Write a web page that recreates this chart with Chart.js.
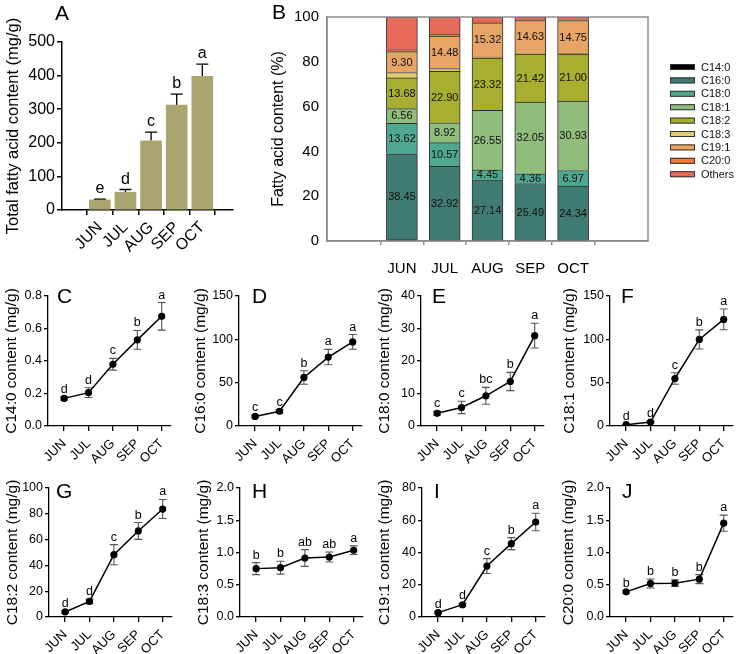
<!DOCTYPE html>
<html><head><meta charset="utf-8">
<script src="https://cdn.jsdelivr.net/npm/chart.js@4.4.1/dist/chart.umd.min.js"></script>
<style>
 html,body{margin:0;padding:0;background:#fff;}
 #wrap{position:relative;width:741px;height:654px;overflow:hidden;background:#fff;font-family:"Liberation Sans",Arial,sans-serif;}
 #wrap canvas{position:absolute;}
 .plab{position:absolute;font-size:21px;line-height:1;color:#000;font-family:"Liberation Sans",Arial,sans-serif;}
</style></head>
<body><div id="wrap"></div>
<script>
// ---------------- data ----------------
const months = ['JUN', 'JUL', 'AUG', 'SEP', 'OCT'];

// A: total fatty acid content (mg/g)
const totalMean = [30, 53, 206, 312, 398];
const totalSd = [2, 8, 26, 33, 36];
const totalLetters = ['e', 'd', 'c', 'b', 'a'];

// B: composition (%)
const compNames = ['C14:0', 'C16:0', 'C18:0', 'C18:1', 'C18:2', 'C18:3', 'C19:1', 'C20:0', 'Others'];
const pctC14_0 = [0.5, 0.4, 0.2, 0.17, 0.17];
const pctC16_0 = [38.45, 32.92, 27.14, 25.49, 24.34];
const pctC18_0 = [13.62, 10.57, 4.45, 4.36, 6.97];
const pctC18_1 = [6.56, 8.92, 26.55, 32.05, 30.93];
const pctC18_2 = [13.68, 22.90, 23.32, 21.42, 21.00];
const pctC18_3 = [2.4, 1.3, 0.45, 0.3, 0.26];
const pctC19_1 = [9.30, 14.48, 15.32, 14.63, 14.75];
const pctC20_0 = [1.0, 1.0, 0.3, 0.2, 0.36];
const pctOthers = [14.49, 7.51, 2.27, 1.38, 1.22];
const pctLabelled = [false, true, true, true, true, false, true, false, false];

// C-J: individual fatty acids (mg/g)
const c14Mean = [0.17, 0.205, 0.38, 0.53, 0.675];
const c14Sd = [0.01, 0.03, 0.036, 0.058, 0.085];
const c14Letters = ['d', 'd', 'c', 'b', 'a'];

const c16Mean = [11, 17, 56, 79.5, 97];
const c16Sd = [1.5, 2, 7.8, 8.9, 8.5];
const c16Letters = ['c', 'c', 'b', 'a', 'a'];

const c180Mean = [3.9, 5.7, 9.3, 13.7, 27.8];
const c180Sd = [0.6, 1.9, 2.6, 2.8, 3.8];
const c180Letters = ['c', 'c', 'bc', 'b', 'a'];

const c181Mean = [1.5, 4.6, 54.8, 99.9, 123];
const c181Sd = [0.5, 1, 6.7, 11, 12];
const c181Letters = ['d', 'd', 'c', 'b', 'a'];

const c182Mean = [3.9, 12.1, 48.3, 66.7, 83.7];
const c182Sd = [0.8, 1.8, 7.8, 6.5, 7.4];
const c182Letters = ['d', 'd', 'c', 'b', 'a'];

const c183Mean = [0.75, 0.765, 0.915, 0.93, 1.035];
const c183Sd = [0.093, 0.1, 0.13, 0.078, 0.067];
const c183Letters = ['b', 'b', 'ab', 'ab', 'a'];

const c191Mean = [2.7, 7.6, 31.6, 45.5, 58.9];
const c191Sd = [0.5, 0.8, 4.6, 3.7, 5.4];
const c191Letters = ['d', 'd', 'c', 'b', 'a'];

const c200Mean = [0.39, 0.52, 0.525, 0.587, 1.455];
const c200Sd = [0.02, 0.07, 0.05, 0.07, 0.125];
const c200Letters = ['b', 'b', 'b', 'b', 'a'];

// ---------------- setup ----------------
const FONT = '"Liberation Sans", Arial, sans-serif';
Chart.defaults.font.family = FONT;
Chart.defaults.color = '#000';
Chart.defaults.animation = false;
Chart.defaults.plugins.legend.display = false;
Chart.defaults.plugins.tooltip.enabled = false;

const wrap = document.getElementById('wrap');
function makeCanvas(x, y, w, h) {
  const c = document.createElement('canvas');
  c.width = w; c.height = h;
  c.style.left = x + 'px'; c.style.top = y + 'px';
  c.style.width = w + 'px'; c.style.height = h + 'px';
  wrap.appendChild(c);
  return c;
}
function panelLetter(t, x, y) {
  const d = document.createElement('div');
  d.className = 'plab'; d.textContent = t;
  d.style.left = x + 'px'; d.style.top = y + 'px';
  wrap.appendChild(d);
}

function errPlugin(sd, letters, o) {
  return {
    id: 'errbars',
    beforeDatasetsDraw(chart) {
      const ctx = chart.ctx, xs = chart.scales.x, ys = chart.scales.y;
      const pts = chart.data.datasets[0].data;
      ctx.save();
      ctx.strokeStyle = o.color; ctx.lineWidth = o.width;
      pts.forEach((p, i) => {
        const x = xs.getPixelForValue(p.x);
        const yT = ys.getPixelForValue(p.y + sd[i]);
        const yB = ys.getPixelForValue(o.upOnly ? p.y : p.y - sd[i]);
        ctx.beginPath();
        ctx.moveTo(x, yB); ctx.lineTo(x, yT);
        ctx.moveTo(x - o.cap / 2, yT); ctx.lineTo(x + o.cap / 2, yT);
        if (!o.upOnly) { ctx.moveTo(x - o.cap / 2, yB); ctx.lineTo(x + o.cap / 2, yB); }
        ctx.stroke();
      });
      ctx.restore();
    },
    afterDatasetsDraw(chart) {
      const ctx = chart.ctx, xs = chart.scales.x, ys = chart.scales.y;
      const pts = chart.data.datasets[0].data;
      ctx.save();
      ctx.fillStyle = '#000';
      ctx.font = o.letterSize + 'px ' + FONT;
      ctx.textAlign = 'center'; ctx.textBaseline = 'alphabetic';
      pts.forEach((p, i) => {
        const x = xs.getPixelForValue(p.x);
        const yT = ys.getPixelForValue(p.y + sd[i]);
        ctx.fillText(letters[i], x, yT - o.letterGap);
      });
      ctx.restore();
    }
  };
}

function monthX(min, max, labelSize, xHeight, tickLen, pad, lw, offset) {
  return {
    type: 'linear', min: min, max: max,
    afterBuildTicks: s => { s.ticks = months.map((m, i) => ({ value: i + offset })); },
    ticks: { callback: v => months[Math.round(v - offset)], autoSkip: false, maxRotation: 45, minRotation: 45,
             font: { size: labelSize }, padding: pad, color: '#000' },
    grid: { display: true, drawOnChartArea: false, drawTicks: true, tickLength: tickLen, color: '#000', lineWidth: lw },
    border: { display: true, color: '#000', width: lw },
    afterFit: s => { s.height = xHeight; }
  };
}

// ---------------- Panel A ----------------
(function () {
  const X = 0, Y = 0, W = 245, H = 262;
  const area = { l: 62, t: 42, r: 233, b: 210 };
  const c = makeCanvas(X, Y, W, H);
  new Chart(c, {
    type: 'bar',
    data: { datasets: [{ data: months.map((m, i) => ({ x: i, y: totalMean[i] })),
                         backgroundColor: '#aaa56f', barThickness: 21, borderWidth: 0 }] },
    options: {
      responsive: false,
      layout: { padding: { left: 0, top: area.t - Y, right: X + W - area.r, bottom: 0 } },
      scales: {
        x: monthX(-0.81, 4.53, 16, Y + H - area.b, 5, 3, 1.5, 0),
        y: {
          min: 0, max: 500,
          ticks: { stepSize: 100, font: { size: 16 }, padding: 2, color: '#000' },
          grid: { drawOnChartArea: false, drawTicks: true, tickLength: 5, color: '#000', lineWidth: 1.5 },
          border: { display: true, color: '#000', width: 1.5 },
          title: { display: true, text: 'Total fatty acid content (mg/g)', font: { size: 16.5 }, color: '#000', padding: { top: 4, bottom: 0 } },
          afterFit: s => { s.width = area.l - X; }
        }
      }
    },
    plugins: [errPlugin(totalSd, totalLetters, { color: '#000', width: 1.3, cap: 12, upOnly: true, letterSize: 16, letterGap: 6 })]
  });
  panelLetter('A', 55, 2);
})();

// ---------------- Panel B ----------------
(function () {
  const X = 240, Y = 0, W = 501, H = 285;
  const area = { l: 327, t: 12, r: 648, b: 241 };
  const c = makeCanvas(X, Y, W, H);
  const compValues = [pctC14_0, pctC16_0, pctC18_0, pctC18_1, pctC18_2, pctC18_3, pctC19_1, pctC20_0, pctOthers];
  const compColors = ['#000000', '#3f7b70', '#4fa88e', '#90bc7c', '#a8af30', '#dec96b', '#e8a464', '#ee7b3c', '#e86b5b'];
  const datasets = compValues.map((arr, k) => ({
    label: compNames[k],
    data: months.map((m, i) => ({ x: i + 1, y: arr[i] })),
    backgroundColor: compColors[k],
    borderColor: '#2e2e2e', borderWidth: 1,
    barThickness: 31, showValue: pctLabelled[k]
  }));
  const gray = '#8d8d8d';
  const boxAndLabels = {
    id: 'boxlabels',
    afterDatasetsDraw(chart) {
      const ctx = chart.ctx, a = chart.chartArea;
      ctx.save();
      ctx.strokeStyle = gray; ctx.lineWidth = 1.5;
      ctx.strokeRect(a.left, a.top, a.right - a.left, a.bottom - a.top);
      ctx.fillStyle = '#111';
      ctx.font = '11px ' + FONT;
      ctx.textAlign = 'center'; ctx.textBaseline = 'middle';
      chart.data.datasets.forEach((ds, di) => {
        if (!ds.showValue) return;
        chart.getDatasetMeta(di).data.forEach((bar, i) => {
          const p = bar.getProps(['x', 'y', 'base'], true);
          ctx.fillText(ds.data[i].y.toFixed(2), p.x, (p.y + p.base) / 2 + 0.5);
        });
      });
      // legend
      const lx = 670 - X, ly = 67 - Y, step = 13.4;
      ctx.textAlign = 'left';
      chart.data.datasets.forEach((ds, di) => {
        const yy = ly + di * step;
        ctx.fillStyle = ds.backgroundColor;
        ctx.fillRect(lx, yy - 3, 25, 6);
        ctx.strokeStyle = '#333'; ctx.lineWidth = 1;
        ctx.strokeRect(lx + 0.5, yy - 3 + 0.5, 24, 5);
        ctx.fillStyle = '#111';
        ctx.font = '11px ' + FONT;
        ctx.fillText(ds.label, lx + 31, yy + 0.5);
      });
      ctx.restore();
    }
  };
  new Chart(c, {
    type: 'bar',
    data: { datasets: datasets },
    options: {
      responsive: false,
      layout: { padding: { left: 0, top: area.t - Y, right: X + W - area.r, bottom: 0 } },
      scales: {
        x: {
          type: 'linear', min: 0, max: 6, stacked: true,
          afterBuildTicks: s => { s.ticks = months.map((m, i) => ({ value: i + 1 })); },
          ticks: { callback: v => months[Math.round(v) - 1], autoSkip: false, maxRotation: 0, minRotation: 0,
                   font: { size: 15 }, padding: 15, color: '#000' },
          grid: { display: true, drawOnChartArea: false, drawTicks: true, tickLength: 4, color: gray, lineWidth: 1.5 },
          border: { display: true, color: gray, width: 1.5 },
          afterFit: s => { s.height = Y + H - area.b; }
        },
        y: {
          min: 0, max: 100, stacked: true,
          ticks: { stepSize: 20, font: { size: 15 }, padding: 8, color: '#000' },
          grid: { drawOnChartArea: false, drawTicks: false, color: gray },
          border: { display: true, color: gray, width: 1.5 },
          title: { display: true, text: 'Fatty acid content (%)', font: { size: 16 }, color: '#000', padding: { top: 29, bottom: 0 } },
          afterFit: s => { s.width = area.l - X; }
        }
      }
    },
    plugins: [boxAndLabels]
  });
  panelLetter('B', 272, 1);
})();

// ---------------- Panels C-J ----------------
const linePanels = [
  { key: 'C', name: 'C14:0', mean: c14Mean, sd: c14Sd, letters: c14Letters, max: 0.8, step: 0.2, dec: 1, X: 0, l: 48, row: 0, tc: 12, lx: 57 },
  { key: 'D', name: 'C16:0', mean: c16Mean, sd: c16Sd, letters: c16Letters, max: 150, step: 50, dec: 0, X: 187, l: 239, row: 0, tc: 14, lx: 252 },
  { key: 'E', name: 'C18:0', mean: c180Mean, sd: c180Sd, letters: c180Letters, max: 40, step: 10, dec: 0, X: 370, l: 421, row: 0, tc: 15, lx: 432 },
  { key: 'F', name: 'C18:1', mean: c181Mean, sd: c181Sd, letters: c181Letters, max: 150, step: 50, dec: 0, X: 556, l: 610, row: 0, tc: 14, lx: 621 },
  { key: 'G', name: 'C18:2', mean: c182Mean, sd: c182Sd, letters: c182Letters, max: 100, step: 20, dec: 0, X: 0, l: 49, row: 1, tc: 12.5, lx: 56 },
  { key: 'H', name: 'C18:3', mean: c183Mean, sd: c183Sd, letters: c183Letters, max: 2, step: 0.5, dec: 1, X: 187, l: 240, row: 1, tc: 17, lx: 252 },
  { key: 'I', name: 'C19:1', mean: c191Mean, sd: c191Sd, letters: c191Letters, max: 80, step: 20, dec: 0, X: 370, l: 422, row: 1, tc: 15, lx: 434 },
  { key: 'J', name: 'C20:0', mean: c200Mean, sd: c200Sd, letters: c200Letters, max: 2, step: 0.5, dec: 1, X: 556, l: 610, row: 1, tc: 13, lx: 622 }
];
const rows = [
  { Y: 268, H: 197, t: 296, b: 426, ly: 285 },
  { Y: 458, H: 196, t: 488, b: 617, ly: 480 }
];
const xMin = -0.66, xMax = 4.38;
const unitPx = 24.4;

linePanels.forEach(p => {
  const r = rows[p.row];
  const W = 185;
  const right = p.l + (xMax - xMin) * unitPx;
  const c = makeCanvas(p.X, r.Y, W, r.H);
  const titleSize = 15.5;
  new Chart(c, {
    type: 'line',
    data: { datasets: [{ data: months.map((m, i) => ({ x: i, y: p.mean[i] })),
                         borderColor: '#000', borderWidth: 1.5, backgroundColor: '#000',
                         pointRadius: 3.6, pointBackgroundColor: '#000', pointBorderWidth: 0, tension: 0 }] },
    options: {
      responsive: false,
      layout: { padding: { left: 0, top: r.t - r.Y, right: p.X + W - right, bottom: 0 } },
      scales: {
        x: monthX(xMin, xMax, 13, r.Y + r.H - r.b, 5, 5, 1.3, 0),
        y: {
          min: 0, max: p.max,
          ticks: { stepSize: p.step, font: { size: 12.5 }, padding: 2, color: '#000',
                   callback: v => Number(v).toFixed(p.dec) },
          grid: { drawOnChartArea: false, drawTicks: true, tickLength: 4, color: '#000', lineWidth: 1.3 },
          border: { display: true, color: '#000', width: 1.3 },
          title: { display: true, text: p.name + ' content (mg/g)', font: { size: titleSize }, color: '#000',
                   padding: { top: Math.max(0, p.tc - titleSize * 0.6), bottom: 0 } },
          afterFit: s => { s.width = p.l - p.X; }
        }
      }
    },
    plugins: [errPlugin(p.sd, p.letters, { color: '#555', width: 1.1, cap: 8, upOnly: false, letterSize: 12.5, letterGap: 4 })]
  });
  panelLetter(p.key, p.lx, r.ly);
});
</script>
</body></html>
